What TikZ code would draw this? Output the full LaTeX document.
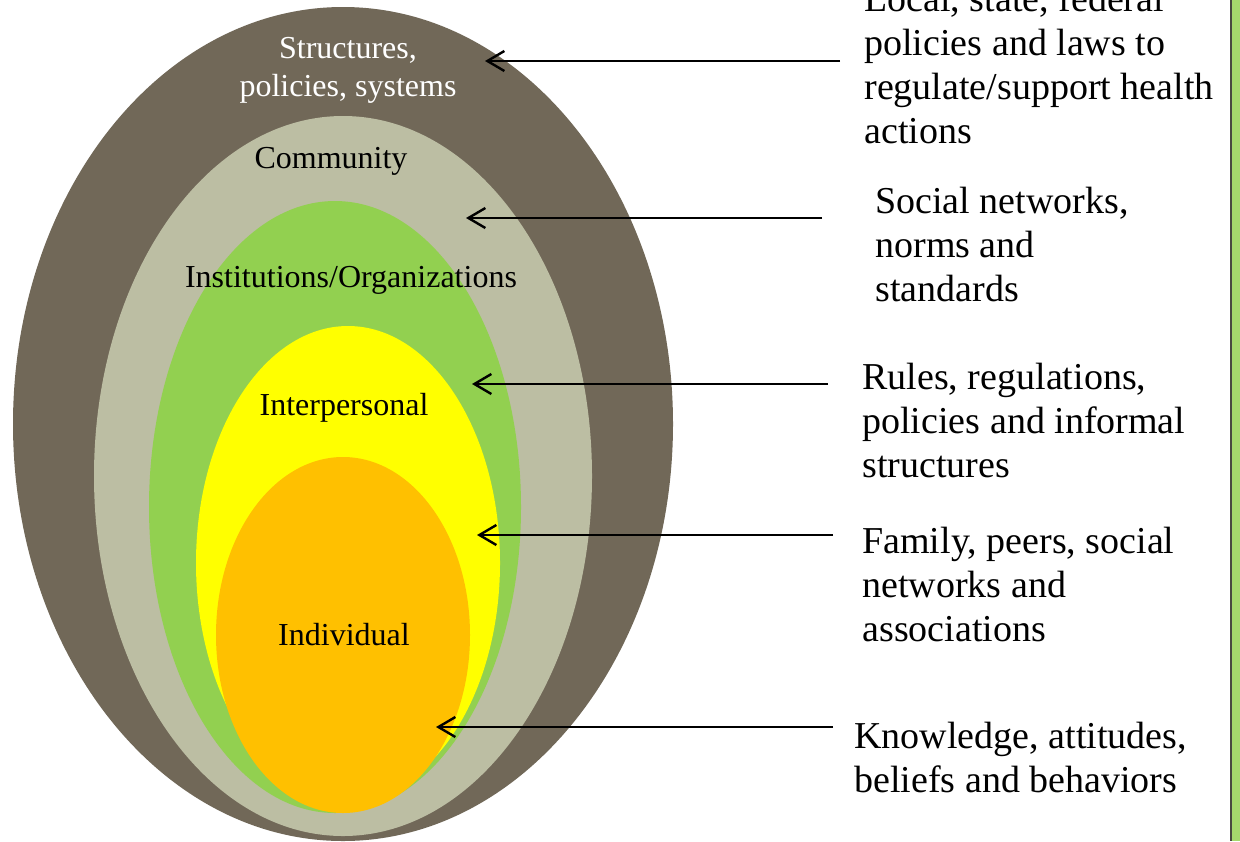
\documentclass[tikz,border=0pt]{standalone}
\usepackage{fontspec}
\setmainfont{Liberation Serif}
\usetikzlibrary{arrows.meta}

\definecolor{systembrown}{HTML}{716858}
\definecolor{communitygray}{HTML}{BCBEA3}
\definecolor{institutiongreen}{HTML}{92D050}
\definecolor{interyellow}{HTML}{FFFF00}
\definecolor{individualgold}{HTML}{FFC000}
\definecolor{barline}{HTML}{4A4A40}
\definecolor{bargreen}{HTML}{A6D96C}

\begin{document}
\begin{tikzpicture}
            [x=0.5pt, y=-0.5pt, >={Straight Barb[length=8.5pt,width=10pt]},
             level/.style={font=\fontsize{16}{19}\selectfont, align=center},
             note/.style={font=\fontsize{19}{22}\selectfont, align=left, anchor=north west, inner sep=0pt},
             pointer/.style={->, line width=1.2pt}]
            \clip (0,0) rectangle (1240,841);
            \fill[white] (0,0) rectangle (1240,841);

            % nested levels
            \fill[systembrown] (343,424) ellipse [x radius=330, y radius=417];
            \fill[communitygray] (343,476) ellipse [x radius=249, y radius=360];
            \fill[institutiongreen] (335,507) ellipse [x radius=186, y radius=306];
            \fill[interyellow] (348,563) ellipse [x radius=152, y radius=237];
            \fill[individualgold] (343,635) ellipse [x radius=127, y radius=178];

            \node[level, text=white] (systems) at (348,70) {Structures,\\policies, systems};
            \node[level] (community) at (331,161) {Community};
            \node[level] (institutions) at (351,280) {Institutions/Organizations};
            \node[level] (interpersonal) at (344,408) {Interpersonal};
            \node[level] (individual) at (344,635) {Individual};

            % right side bar
            \fill[bargreen] (1232,0) rectangle (1240,841);
            \draw[barline, line width=1pt] (1231,0) -- (1231,841);

            % descriptions
            \node[note] (laws) at (864,-16) {Local, state, federal\\policies and laws to\\regulate/support health\\actions};
            \node[note] (networks) at (875,187) {Social networks,\\norms and\\standards};
            \node[note] (rules) at (862,363) {Rules, regulations,\\policies and informal\\structures};
            \node[note] (family) at (862,527) {Family, peers, social\\networks and\\associations};
            \node[note] (knowledge) at (854,722) {Knowledge, attitudes,\\beliefs and behaviors};

            \coordinate (laws start) at (840,61);
            \coordinate (laws end) at (485,61);
            \coordinate (networks start) at (822,218);
            \coordinate (networks end) at (466,218);
            \coordinate (rules start) at (828,384);
            \coordinate (rules end) at (472,384);
            \coordinate (family start) at (833,535);
            \coordinate (family end) at (477,535);
            \coordinate (knowledge start) at (833,727);
            \coordinate (knowledge end) at (436,727);

            \path [pointer] (laws start) edge (laws end);
            \path [pointer] (networks start) edge (networks end);
            \path [pointer] (rules start) edge (rules end);
            \path [pointer] (family start) edge (family end);
            \path [pointer] (knowledge start) edge (knowledge end);
        \end{tikzpicture}
\end{document}
